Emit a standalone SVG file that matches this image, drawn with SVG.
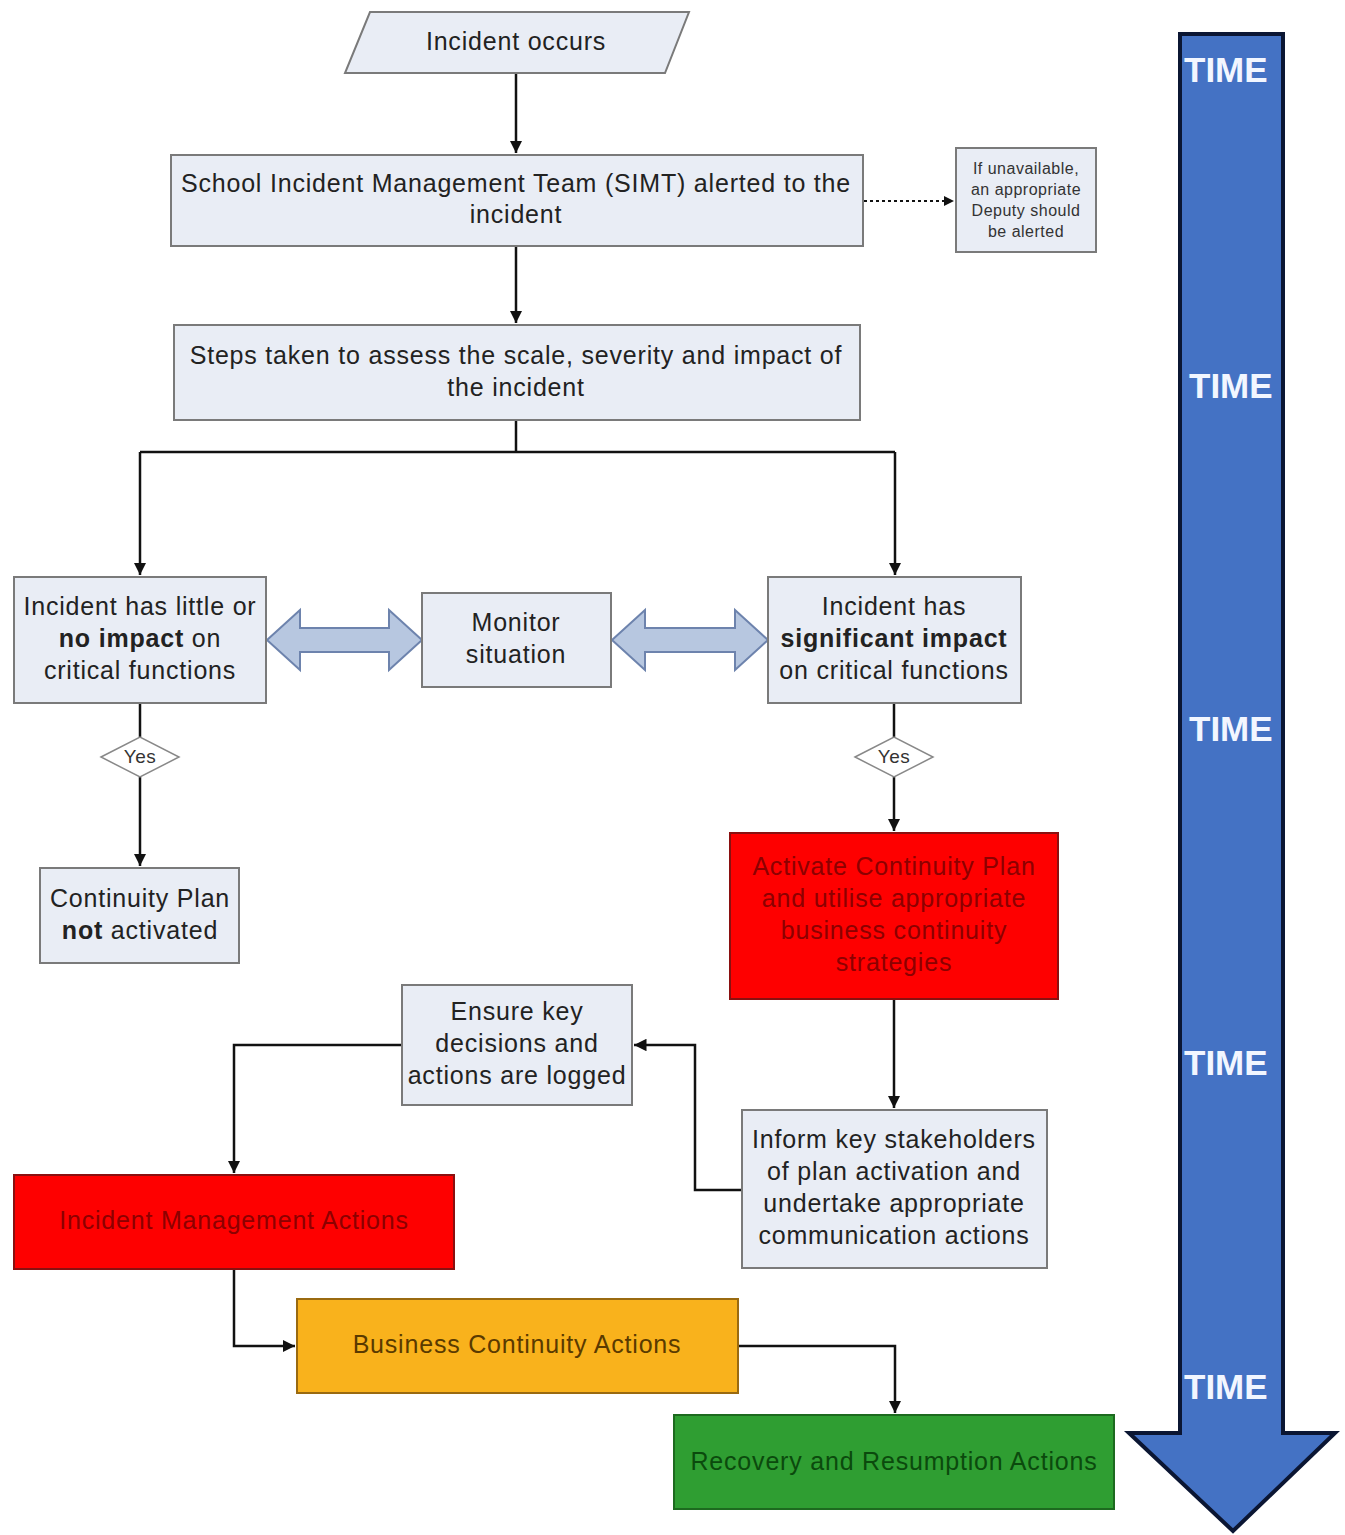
<svg xmlns="http://www.w3.org/2000/svg" width="1345" height="1535" viewBox="0 0 1345 1535">
<defs>
<style>
.box{fill:#e9edf5;stroke:#7a7a7a;stroke-width:2}
.t{font-family:"Liberation Sans",Arial,sans-serif;font-size:25px;letter-spacing:0.8px;fill:#222;text-anchor:middle}
.ts{font-family:"Liberation Sans",Arial,sans-serif;font-size:16px;letter-spacing:0.5px;fill:#333;text-anchor:middle}
.b{font-weight:bold}
.ln{fill:none;stroke:#111;stroke-width:2.5}
.dbl{fill:#b7c7e0;stroke:#6d83ad;stroke-width:2}
.time{font-family:"Liberation Sans",Arial,sans-serif;font-size:35px;font-weight:bold;fill:#f2f6ff}
</style>
<marker id="ah" viewBox="0 0 10 10" refX="10" refY="5" markerWidth="5" markerHeight="5" orient="auto" markerUnits="strokeWidth">
<path d="M0,0 L10,5 L0,10 z" fill="#111"/>
</marker>
</defs>
<rect width="1345" height="1535" fill="#fff"/>

<g id="time-arrow">
<path d="M1180,34 L1283,34 L1283,1433 L1335,1433 L1233,1531 L1129,1433 L1180,1433 Z" fill="#4472c4" stroke="#0b1633" stroke-width="4" stroke-linejoin="miter"/>
<text class="time" x="1184" y="82">TIME</text>
<text class="time" x="1189" y="398">TIME</text>
<text class="time" x="1189" y="741">TIME</text>
<text class="time" x="1184" y="1075">TIME</text>
<text class="time" x="1184" y="1399">TIME</text>
</g>

<g id="connectors">
<path class="ln" d="M516,73 L516,153" marker-end="url(#ah)"/>
<path d="M864,201 L954,201" fill="none" stroke="#111" stroke-width="2" stroke-dasharray="3,3" marker-end="url(#ah)"/>
<path class="ln" d="M516,246 L516,323" marker-end="url(#ah)"/>
<path class="ln" d="M516,420 L516,452"/>
<path class="ln" d="M140,452 L895,452"/>
<path class="ln" d="M140,452 L140,575" marker-end="url(#ah)"/>
<path class="ln" d="M895,452 L895,575" marker-end="url(#ah)"/>
<path class="ln" d="M140,703 L140,737"/>
<path class="ln" d="M140,777 L140,866" marker-end="url(#ah)"/>
<path class="ln" d="M894,703 L894,737"/>
<path class="ln" d="M894,777 L894,831" marker-end="url(#ah)"/>
<path class="ln" d="M894,999 L894,1108" marker-end="url(#ah)"/>
<path class="ln" d="M742,1190 L695,1190 L695,1045 L634,1045" marker-end="url(#ah)"/>
<path class="ln" d="M402,1045 L234,1045 L234,1173" marker-end="url(#ah)"/>
<path class="ln" d="M234,1269 L234,1346 L295,1346" marker-end="url(#ah)"/>
<path class="ln" d="M738,1346 L895,1346 L895,1413" marker-end="url(#ah)"/>
<path class="dbl" d="M267,640 L300,610 L300,628 L389,628 L389,610 L422,640 L389,670 L389,652 L300,652 L300,670 Z"/>
<path class="dbl" d="M612,640 L645,610 L645,628 L735,628 L735,610 L768,640 L735,670 L735,652 L645,652 L645,670 Z"/>
</g>

<g id="incident-occurs">
<path class="box" d="M370,12 L689,12 L665,73 L345,73 Z"/>
<text class="t" x="516" y="50">Incident occurs</text>
</g>

<g id="simt">
<rect class="box" x="171" y="155" width="692" height="91"/>
<text class="t" x="516" y="192">School Incident Management Team (SIMT) alerted to the</text>
<text class="t" x="516" y="223">incident</text>
</g>

<g id="deputy">
<rect class="box" x="956" y="148" width="140" height="104"/>
<text class="ts" x="1026" y="174">If unavailable,</text>
<text class="ts" x="1026" y="195">an appropriate</text>
<text class="ts" x="1026" y="216">Deputy should</text>
<text class="ts" x="1026" y="237">be alerted</text>
</g>

<g id="assess">
<rect class="box" x="174" y="325" width="686" height="95"/>
<text class="t" x="516" y="364">Steps taken to assess the scale, severity and impact of</text>
<text class="t" x="516" y="396">the incident</text>
</g>

<g id="little-impact">
<rect class="box" x="14" y="577" width="252" height="126"/>
<text class="t" x="140" y="615">Incident has little or</text>
<text class="t" x="140" y="647"><tspan class="b">no impact</tspan> on</text>
<text class="t" x="140" y="679">critical functions</text>
</g>

<g id="monitor">
<rect class="box" x="422" y="593" width="189" height="94"/>
<text class="t" x="516" y="631">Monitor</text>
<text class="t" x="516" y="663">situation</text>
</g>

<g id="significant-impact">
<rect class="box" x="768" y="577" width="253" height="126"/>
<text class="t" x="894" y="615">Incident has</text>
<text class="t" x="894" y="647"><tspan class="b">significant impact</tspan></text>
<text class="t" x="894" y="679">on critical functions</text>
</g>

<g id="yes-left">
<path d="M101,757 L140,737 L179,757 L140,777 Z" fill="#fff" stroke="#888" stroke-width="1.5"/>
<text class="ts" x="140" y="763" style="font-size:19px">Yes</text>
</g>

<g id="yes-right">
<path d="M855,757 L894,737 L933,757 L894,777 Z" fill="#fff" stroke="#888" stroke-width="1.5"/>
<text class="ts" x="894" y="763" style="font-size:19px">Yes</text>
</g>

<g id="not-activated">
<rect class="box" x="40" y="868" width="199" height="95"/>
<text class="t" x="140" y="907">Continuity Plan</text>
<text class="t" x="140" y="939"><tspan class="b">not</tspan> activated</text>
</g>

<g id="activate">
<rect x="730" y="833" width="328" height="166" fill="#fe0000" stroke="#8a1010" stroke-width="2"/>
<text class="t" x="894" y="875" style="fill:#8c0000">Activate Continuity Plan</text>
<text class="t" x="894" y="907" style="fill:#8c0000">and utilise appropriate</text>
<text class="t" x="894" y="939" style="fill:#8c0000">business continuity</text>
<text class="t" x="894" y="971" style="fill:#8c0000">strategies</text>
</g>

<g id="ensure">
<rect class="box" x="402" y="985" width="230" height="120"/>
<text class="t" x="517" y="1020">Ensure key</text>
<text class="t" x="517" y="1052">decisions and</text>
<text class="t" x="517" y="1084">actions are logged</text>
</g>

<g id="inform">
<rect class="box" x="742" y="1110" width="305" height="158"/>
<text class="t" x="894" y="1148">Inform key stakeholders</text>
<text class="t" x="894" y="1180">of plan activation and</text>
<text class="t" x="894" y="1212">undertake appropriate</text>
<text class="t" x="894" y="1244">communication actions</text>
</g>

<g id="incident-mgmt">
<rect x="14" y="1175" width="440" height="94" fill="#fe0000" stroke="#8a1010" stroke-width="2"/>
<text class="t" x="234" y="1229" style="fill:#8c0000">Incident Management Actions</text>
</g>

<g id="business-continuity">
<rect x="297" y="1299" width="441" height="94" fill="#f9b21c" stroke="#9a6a10" stroke-width="2"/>
<text class="t" x="517" y="1353" style="fill:#5a3a00">Business Continuity Actions</text>
</g>

<g id="recovery">
<rect x="674" y="1415" width="440" height="94" fill="#2f9e32" stroke="#1d6a1f" stroke-width="2"/>
<text class="t" x="894" y="1470" style="fill:#0b4a0d">Recovery and Resumption Actions</text>
</g>
</svg>
